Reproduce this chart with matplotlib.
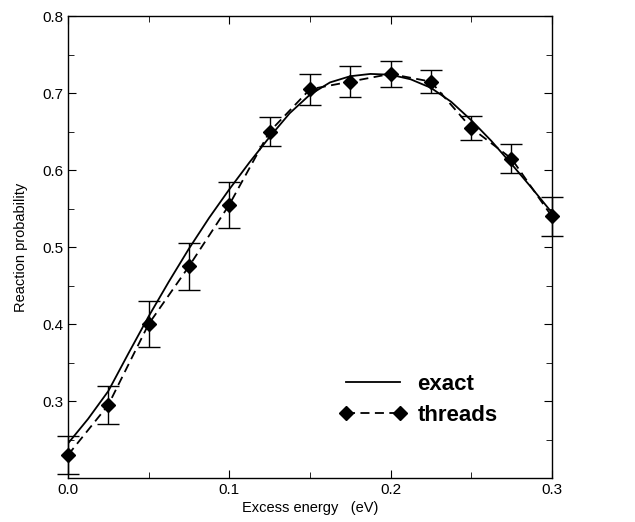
import numpy as np
import matplotlib
matplotlib.use('Agg')
import matplotlib.pyplot as plt
from matplotlib.ticker import MultipleLocator

plt.rcParams['font.family'] = ['Liberation Sans', 'DejaVu Sans']

# dados
energia = [0.0, 0.025, 0.05, 0.075, 0.1, 0.125, 0.15, 0.175, 0.2, 0.225, 0.25, 0.275, 0.3]
threads = [0.23, 0.295, 0.40, 0.475, 0.555, 0.65, 0.705, 0.715, 0.725, 0.715, 0.655, 0.615, 0.54]
erro = [0.025, 0.025, 0.03, 0.03, 0.03, 0.019, 0.02, 0.02, 0.017, 0.015, 0.016, 0.019, 0.025]

energia_exata = [0.0, 0.0125, 0.025, 0.0375, 0.05, 0.0625, 0.075, 0.0875, 0.1, 0.1125,
                 0.125, 0.1375, 0.15, 0.1625, 0.175, 0.1875, 0.2, 0.2125, 0.225, 0.2375,
                 0.25, 0.2625, 0.275, 0.2875, 0.3]
exata = [0.245, 0.277, 0.313, 0.362, 0.41, 0.455, 0.498, 0.538, 0.575, 0.61,
         0.643, 0.674, 0.698, 0.714, 0.722, 0.725, 0.724, 0.718, 0.707, 0.689,
         0.665, 0.638, 0.608, 0.577, 0.545]

fig = plt.figure(figsize=(6.35, 5.22), dpi=100)
ax = fig.add_axes([0.107, 0.084, 0.762, 0.885])

ax.plot(energia_exata, exata, color='black', linewidth=1.3, label='exact')
ax.plot(energia, threads, color='black', linestyle='--', dashes=(5, 3), linewidth=1.3,
        marker='D', markersize=7, label='threads', clip_on=False, zorder=3)
eb = ax.errorbar(energia, threads, yerr=erro, fmt='none', ecolor='black', elinewidth=1.0,
                 capsize=8, capthick=1.0)
for artist in eb.lines[1] + eb.lines[2]:
    artist.set_clip_on(False)

ax.set_xlim(0, 0.3)
ax.set_ylim(0.2, 0.8)
ax.xaxis.set_major_locator(MultipleLocator(0.1))
ax.xaxis.set_minor_locator(MultipleLocator(0.05))
ax.yaxis.set_minor_locator(MultipleLocator(0.05))
ax.set_yticks([0.3, 0.4, 0.5, 0.6, 0.7, 0.8])
ax.xaxis.set_major_formatter(plt.FormatStrFormatter('%.1f'))
ax.yaxis.set_major_formatter(plt.FormatStrFormatter('%.1f'))
ax.tick_params(which='both', direction='in', top=True, right=True, labelsize=11)
ax.tick_params(which='major', length=6)
ax.tick_params(which='minor', length=4)
for s in ax.spines.values():
    s.set_linewidth(1.0)

ax.set_xlabel('Excess energy   (eV)', fontsize=10.5, labelpad=3)
ax.set_ylabel('Reaction probability', fontsize=10.5, labelpad=10)

ax.legend(loc='center left', bbox_to_anchor=(0.52, 0.17), frameon=False, numpoints=2,
          handlelength=3.0, handletextpad=0.5, prop={'weight': 'bold', 'size': 16},
          labelspacing=0.45)

plt.savefig('out.png', dpi=100)
